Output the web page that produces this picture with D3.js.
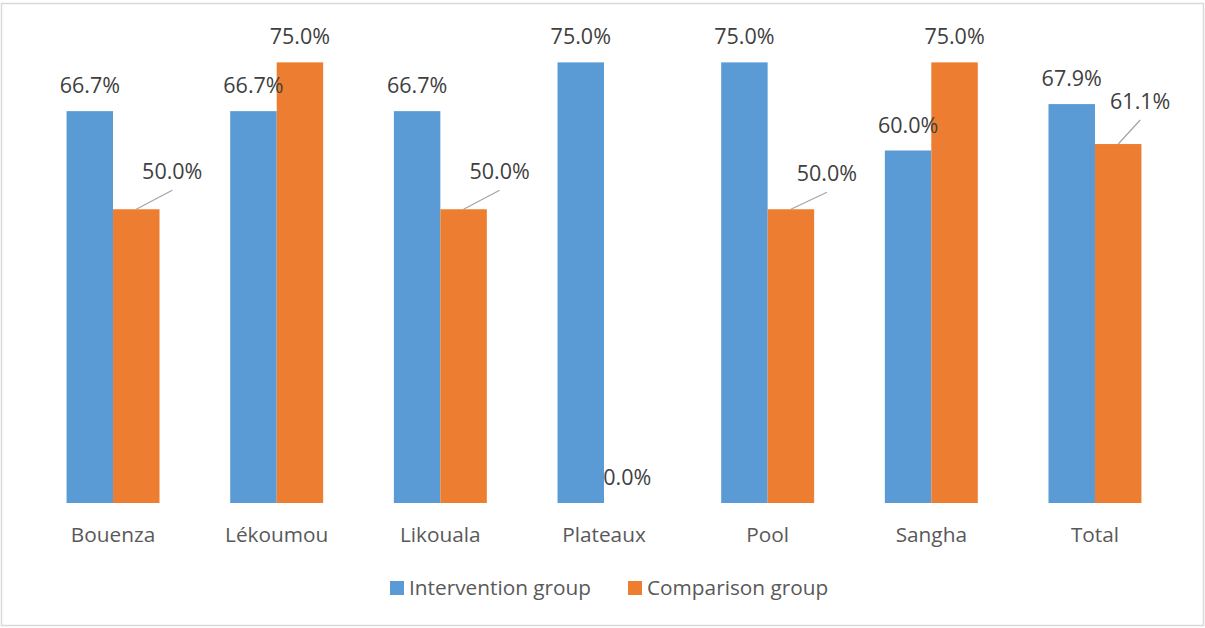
<!DOCTYPE html>
<html>
<head>
<meta charset="utf-8">
<script src="https://cdn.jsdelivr.net/npm/d3@7"></script>
<style>
  html, body { margin: 0; padding: 0; background: #fff; }
  svg { display: block; font-family: "Open Sans", "Noto Sans", sans-serif; }
</style>
</head>
<body>
<svg id="chart" width="1205" height="628"></svg>
<script>
// Share of respondents by department, per study group
const categories = ["Bouenza", "Lékoumou", "Likouala", "Plateaux", "Pool", "Sangha", "Total"];
const seriesNames = ["Intervention group", "Comparison group"];
const intervention = [0.667, 0.667, 0.667, 0.75, 0.75, 0.60, 0.679];
const comparison = [0.50, 0.75, 0.50, 0.0, 0.50, 0.75, 0.611];
const seriesColors = ["#5B9BD5", "#ED7D31"];

// Labels that were dragged away from their bar, with a leader line back to it
const labelNudges = {
  "Bouenza|Comparison group": { dx: 36, dy: -12 },
  "Likouala|Comparison group": { dx: 36, dy: -12 },
  "Pool|Comparison group": { dx: 36, dy: -10 },
  "Total|Comparison group": { dx: 22, dy: -17 }
};

const svg = d3.select("#chart");
const W = 1205, H = 628;

// outer frame
svg.append("rect")
  .attr("x", 1.5).attr("y", 3.5)
  .attr("width", W - 3).attr("height", 622)
  .attr("fill", "#fff").attr("stroke", "#D9D9D9").attr("stroke-width", 1.5);

const plot = { left: 31.2, right: 1176.8, top: 33, bottom: 503 };

const x = d3.scaleBand()
  .domain(categories)
  .range([plot.left, plot.right])
  .paddingInner(0.432)
  .paddingOuter(0.216);

const xs = d3.scaleBand()
  .domain(seriesNames)
  .range([0, x.bandwidth()]);

const y = d3.scaleLinear()
  .domain([0, 0.8])
  .range([plot.bottom, plot.top]);

const rows = categories.map((c, i) => ({
  cat: c,
  values: [
    { s: seriesNames[0], v: intervention[i], color: seriesColors[0] },
    { s: seriesNames[1], v: comparison[i], color: seriesColors[1] }
  ]
}));

const groups = svg.append("g").selectAll("g")
  .data(rows).join("g")
  .attr("transform", d => `translate(${x(d.cat)},0)`);

groups.selectAll("rect")
  .data(d => d.values).join("rect")
  .attr("x", d => xs(d.s))
  .attr("y", d => y(d.v))
  .attr("width", xs.bandwidth())
  .attr("height", d => y(0) - y(d.v))
  .attr("fill", d => d.color);

// data labels
const fmt = d3.format(".1%");
const labelSize = 21.5;
groups.each(function (d) {
  const g = d3.select(this);
  d.values.forEach(item => {
    const cx = xs(item.s) + xs.bandwidth() / 2;
    const top = y(item.v);
    const nudge = labelNudges[d.cat + "|" + item.s];
    let lx = cx, ly = top - 18;
    if (nudge) {
      lx = cx + nudge.dx;
      ly = top - 18 + nudge.dy;
      g.append("line")
        .attr("x1", cx).attr("y1", top)
        .attr("x2", lx).attr("y2", ly + 11)
        .attr("stroke", "#A6A6A6").attr("stroke-width", 1.3);
    }
    g.append("text")
      .attr("x", lx).attr("y", ly)
      .attr("text-anchor", "middle")
      .attr("font-size", labelSize).attr("fill", "#404040")
      .text(fmt(item.v));
  });
});

// category axis labels
const xAxis = d3.axisBottom(x).tickSize(0).tickPadding(0);
const axisG = svg.append("g")
  .attr("transform", `translate(0,${plot.bottom})`)
  .call(xAxis);
axisG.select(".domain").remove();
axisG.selectAll("text")
  .attr("y", 39).attr("dy", null)
  .attr("font-size", 20.8)
  .attr("font-family", "'Open Sans', 'Noto Sans', sans-serif")
  .attr("fill", "#595959");

// legend
const legendPos = [390, 628];
const legend = svg.append("g");
seriesNames.forEach((name, i) => {
  legend.append("rect")
    .attr("x", legendPos[i]).attr("y", 581)
    .attr("width", 14).attr("height", 14)
    .attr("fill", seriesColors[i]);
  legend.append("text")
    .attr("x", legendPos[i] + 19).attr("y", 595)
    .attr("font-size", 20.8).attr("fill", "#595959")
    .text(name);
});
</script>
</body>
</html>
